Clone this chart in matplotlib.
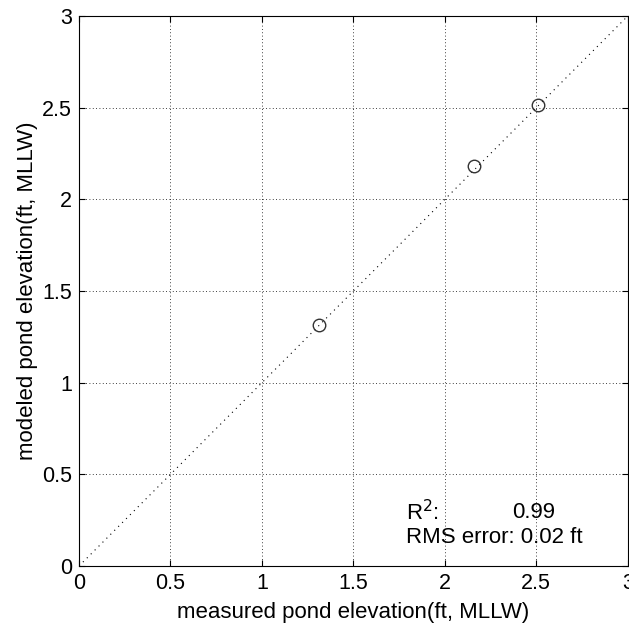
import numpy as np
import matplotlib.pyplot as plt

plt.rcParams['font.family'] = ['Liberation Sans', 'DejaVu Sans']

# measured vs modeled pond elevation (ft, MLLW)
measured = [1.31, 2.16, 2.51]
modeled = [1.315, 2.18, 2.515]
r2 = 0.99
rms_err = 0.02
ticks = [0, 0.5, 1, 1.5, 2, 2.5, 3]
tick_labels = ['0', '0.5', '1', '1.5', '2', '2.5', '3']

fig = plt.figure(figsize=(6.29, 6.26), dpi=100)
ax = fig.add_axes([0.1256, 0.0958, 0.8724, 0.8786])

# 1:1 line
ax.plot([0, 3], [0, 3], linestyle=(0, (1, 4)), color='black', linewidth=0.8)
ax.plot(measured, modeled, 'o', mfc='none', mec='#333333', ms=9, mew=1.0)

ax.set_xlim(0, 3)
ax.set_ylim(0, 3)
ax.set_xticks(ticks)
ax.set_yticks(ticks)
ax.set_xticklabels(tick_labels)
ax.set_yticklabels(tick_labels)
ax.tick_params(direction='in', length=4, width=0.8, labelsize=15.5,
               top=True, right=True, pad=5)
ax.grid(True, linestyle=(0, (1, 3)), color='black', linewidth=0.6)
for s in ax.spines.values():
    s.set_linewidth(0.8)

ax.set_xlabel('measured pond elevation(ft, MLLW)', fontsize=16, labelpad=6)
ax.set_ylabel('modeled pond elevation(ft, MLLW)', fontsize=16, labelpad=3)

ax.text(1.79, 0.29, 'R$^2$:', fontsize=16, va='center')
ax.text(2.37, 0.29, f'{r2:.2f}', fontsize=16, va='center')
ax.text(1.79, 0.155, f'RMS error: {rms_err:.2f} ft', fontsize=16, va='center')

fig.savefig('out.png', dpi=100)
